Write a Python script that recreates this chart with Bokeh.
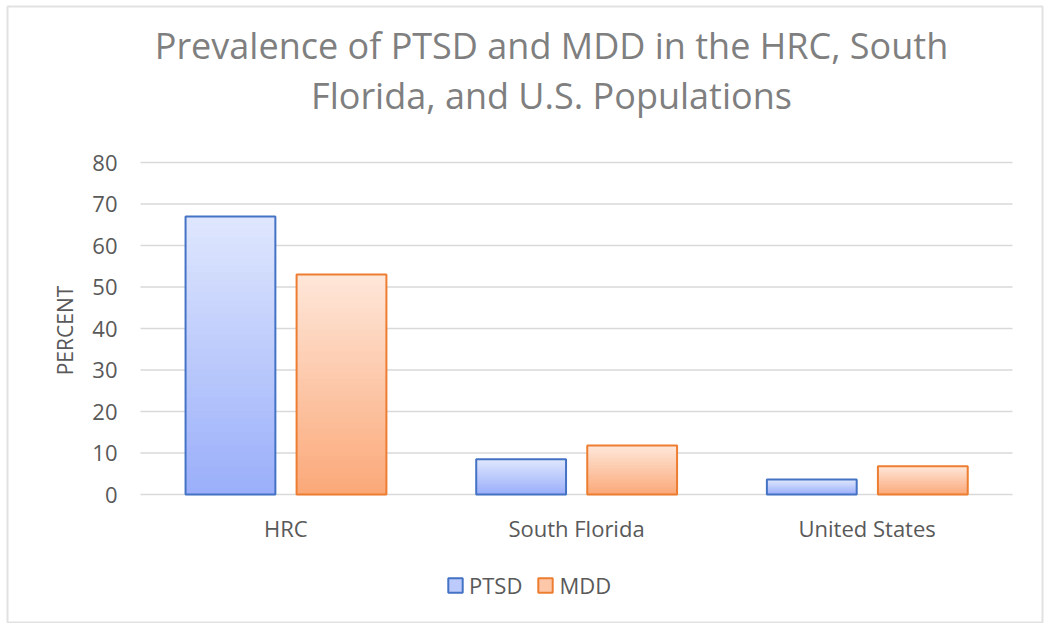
import numpy as np
from bokeh.plotting import figure
from bokeh.models import ColumnDataSource, Range1d, Legend, LegendItem
from bokeh.transform import dodge
from bokeh.core.properties import value
from bokeh.embed import file_html
from bokeh.resources import INLINE

# ---- data ----
categories = ["HRC", "South Florida", "United States"]
series = ["PTSD", "MDD"]
ptsd = [67.0, 8.5, 3.6]
mdd = [53.0, 11.8, 6.8]
y_ticks = [0, 10, 20, 30, 40, 50, 60, 70, 80]
y_label = "PERCENT"
title_lines = ["Prevalence of PTSD and MDD in the HRC, South", "Florida, and U.S. Populations"]

# category slots: slot i spans [i, i+1], centre i+0.5
xpos = [i + 0.5 for i in range(len(categories))]

# ---- layout (page pixels) ----
CHART_L, CHART_T, CHART_R, CHART_B = 7, 6, 1042, 623     # outer chart box
PLOT_L, PLOT_R = 140, 1012                              # category area
PX0, PX80 = 494, 162                                    # pixel rows of y=0 and y=80
W, H = 1045, 623
px_x = (PLOT_R - PLOT_L) / len(categories)
px_y = (PX0 - PX80) / 80.0


def dx(px):
    return (px - PLOT_L) / px_x


def dy(py):
    return (PX0 - py) / px_y


# ---- styling ----
FONT = "Open Sans"
TEXT = "#595959"
GRID = "#d9d9d9"
styles = {
    "PTSD": dict(top="#dfe7fd", bottom="#9aaefa", mid="#bccbfb", line="#4472c4",
                 off=(-0.345, -0.036)),
    "MDD": dict(top="#fee7da", bottom="#fba878", mid="#fdc7a9", line="#ed7d31",
                off=(0.037, 0.346)),
}
N_SLICES = 40


def hex2rgb(h):
    h = h.lstrip("#")
    return np.array([int(h[i:i + 2], 16) for i in (0, 2, 4)], dtype=float)


def mix(c0, c1, t):
    c = hex2rgb(c0) * (1 - t) + hex2rgb(c1) * t
    return "#%02x%02x%02x" % tuple(int(round(v)) for v in c)


p = figure(width=W, height=H, output_backend="svg", toolbar_location=None, title=None,
           x_axis_location=None, y_axis_location=None,
           x_range=Range1d(dx(CHART_L), dx(CHART_R)), y_range=Range1d(dy(CHART_B), dy(CHART_T)),
           min_border_left=CHART_L, min_border_top=CHART_T,
           min_border_right=W - CHART_R, min_border_bottom=H - CHART_B)
p.grid.grid_line_color = None
p.outline_line_color = "#e2e2e2"
p.outline_line_width = 2
p.background_fill_color = "white"
p.border_fill_color = "white"

# horizontal gridlines at the y ticks, across the category area
p.segment(x0=0, x1=len(categories), y0=y_ticks, y1=y_ticks, line_color=GRID, line_width=1.6)

# y tick labels
p.text(x=dx(117), y=y_ticks, text=[str(t) for t in y_ticks], text_align="right",
       text_baseline="middle", text_font=value(FONT), text_font_size=value("22px"),
       text_color=TEXT)
# y axis title
p.text(x=[dx(64)], y=[dy(330)], text=[y_label], angle=np.pi / 2, text_align="center",
       text_baseline="alphabetic", text_font=value(FONT), text_font_size=value("21px"),
       text_color=TEXT)
# category labels
p.text(x=xpos, y=dy(527), text=categories, text_align="center", text_baseline="alphabetic",
       text_font=value(FONT), text_font_size=value("22px"), text_color=TEXT)
# title
p.text(x=dx(551), y=[dy(44.5), dy(94.5)], text=title_lines, text_align="center",
       text_baseline="alphabetic", text_font=value(FONT), text_font_size=value("36px"),
       text_color="#7f7f7f")

legend_items = []
for name, vals in zip(series, [ptsd, mdd]):
    st = styles[name]
    xs, bots, tops, cols = [], [], [], []
    for x, v in zip(xpos, vals):
        edges = np.linspace(0, v, N_SLICES + 1)
        for i in range(N_SLICES):
            t = (i + 0.5) / N_SLICES
            xs.append(x)
            bots.append(edges[i])
            tops.append(v)
            cols.append(mix(st["bottom"], st["top"], t))
    src = ColumnDataSource(dict(x=xs, bottom=bots, top=tops, color=cols))
    p.quad(left=dodge("x", st["off"][0]), right=dodge("x", st["off"][1]),
           bottom="bottom", top="top", fill_color="color", line_color=None, source=src)
    osrc = ColumnDataSource(dict(x=xpos, top=vals))
    p.quad(left=dodge("x", st["off"][0]), right=dodge("x", st["off"][1]),
           bottom=0, top="top", fill_color=None, line_color=st["line"], line_width=2,
           source=osrc)
    # legend swatch only (no position in the plot)
    lsrc = ColumnDataSource(dict(l=[np.nan], r=[np.nan], b=[np.nan], t=[np.nan]))
    sw = p.quad(left="l", right="r", bottom="b", top="t", fill_color=st["mid"],
                line_color=st["line"], line_width=2, source=lsrc)
    legend_items.append(LegendItem(label=name, renderers=[sw]))

legend = Legend(items=legend_items, orientation="horizontal", location=(439, 23),
                glyph_width=18, glyph_height=18, label_standoff=5, spacing=14, label_height=18,
                padding=0, margin=0, border_line_color=None, background_fill_alpha=0,
                label_text_font=FONT, label_text_font_size="22px", label_text_color=TEXT)
p.add_layout(legend, "center")

open("out.html", "w").write(file_html(p, INLINE))
